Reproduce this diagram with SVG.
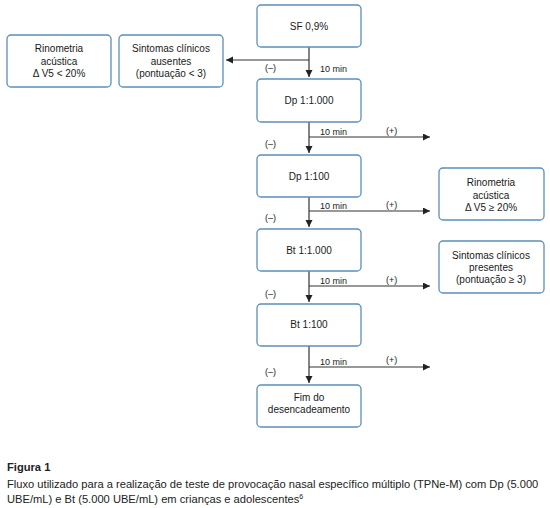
<svg xmlns="http://www.w3.org/2000/svg" width="550" height="508" viewBox="0 0 550 508">
<style>
.box{fill:#fff;stroke:#5b8fb9;stroke-width:1.3}
.t{font-family:"Liberation Sans",Arial,sans-serif;font-size:10px;fill:#1a1a1a;text-anchor:middle}
.l{font-family:"Liberation Sans",Arial,sans-serif;font-size:9px;fill:#1a1a1a}
.c{font-family:"Liberation Sans",Arial,sans-serif;font-size:11.15px;fill:#222}
.ln{stroke:#333;stroke-width:1.2;fill:none}
</style>
<defs>
<marker id="ah" markerUnits="userSpaceOnUse" markerWidth="8" markerHeight="8" refX="7" refY="3.5" orient="auto"><path d="M0,0 L7,3.5 L0,7 z" fill="#222"/></marker>
</defs>
<rect width="550" height="508" fill="#fff"/>
<g id="connectors">
<line class="ln" x1="309" y1="47" x2="309" y2="77" marker-end="url(#ah)"/>
<line class="ln" x1="309" y1="60" x2="226" y2="60" marker-end="url(#ah)"/>
<line class="ln" x1="309" y1="122" x2="309" y2="153" marker-end="url(#ah)"/>
<line class="ln" x1="309" y1="137" x2="430" y2="137" marker-end="url(#ah)"/>
<line class="ln" x1="309" y1="197" x2="309" y2="227" marker-end="url(#ah)"/>
<line class="ln" x1="309" y1="211" x2="430" y2="211" marker-end="url(#ah)"/>
<line class="ln" x1="309" y1="271" x2="309" y2="302" marker-end="url(#ah)"/>
<line class="ln" x1="309" y1="286" x2="430" y2="286" marker-end="url(#ah)"/>
<line class="ln" x1="309" y1="346" x2="309" y2="383" marker-end="url(#ah)"/>
<line class="ln" x1="309" y1="367" x2="430" y2="367" marker-end="url(#ah)"/>
<text class="l" x="265" y="71">(–)</text>
<text class="l" x="320" y="72">10 min</text>
<text class="l" x="320" y="135">10 min</text>
<text class="l" x="386" y="134">(+)</text>
<text class="l" x="265" y="147">(–)</text>
<text class="l" x="320" y="209">10 min</text>
<text class="l" x="386" y="208">(+)</text>
<text class="l" x="265" y="221">(–)</text>
<text class="l" x="320" y="284">10 min</text>
<text class="l" x="386" y="283">(+)</text>
<text class="l" x="265" y="297">(–)</text>
<text class="l" x="320" y="365">10 min</text>
<text class="l" x="386" y="363">(+)</text>
<text class="l" x="265" y="375">(–)</text>
</g>
<g id="sf"><rect class="box" x="257" y="5" width="104" height="42" rx="4"/><text class="t" x="309" y="29.5">SF 0,9%</text></g>
<g id="dp1000"><rect class="box" x="257" y="79" width="104" height="43" rx="4"/><text class="t" x="309" y="104">Dp 1:1.000</text></g>
<g id="dp100"><rect class="box" x="257" y="155" width="104" height="42" rx="4"/><text class="t" x="309" y="180">Dp 1:100</text></g>
<g id="bt1000"><rect class="box" x="257" y="229" width="104" height="42" rx="4"/><text class="t" x="309" y="254">Bt 1:1.000</text></g>
<g id="bt100"><rect class="box" x="257" y="304" width="104" height="42" rx="4"/><text class="t" x="309" y="328">Bt 1:100</text></g>
<g id="fim"><rect class="box" x="257" y="385" width="104" height="42" rx="4"/><text class="t" x="309" y="401">Fim do</text><text class="t" x="309" y="413">desencadeamento</text></g>
<g id="rino-neg"><rect class="box" x="7" y="35" width="104" height="52" rx="4"/><text class="t" x="59" y="52">Rinometria</text><text class="t" x="59" y="64.5">acústica</text><text class="t" x="59" y="77">Δ V5 &lt; 20%</text></g>
<g id="sint-neg"><rect class="box" x="119" y="35" width="104" height="52" rx="4"/><text class="t" x="171" y="52">Sintomas clínicos</text><text class="t" x="171" y="64.5">ausentes</text><text class="t" x="171" y="77">(pontuação &lt; 3)</text></g>
<g id="rino-pos"><rect class="box" x="439" y="168" width="105" height="52" rx="4"/><text class="t" x="491" y="186">Rinometria</text><text class="t" x="491" y="198.5">acústica</text><text class="t" x="491" y="211">Δ V5 ≥ 20%</text></g>
<g id="sint-pos"><rect class="box" x="439" y="241" width="105" height="52" rx="4"/><text class="t" x="491" y="259">Sintomas clínicos</text><text class="t" x="491" y="271">presentes</text><text class="t" x="491" y="283">(pontuação ≥ 3)</text></g>
<g id="caption">
<text class="c" x="7" y="471" font-weight="bold">Figura 1</text>
<text class="c" x="7" y="488">Fluxo utilizado para a realização de teste de provocação nasal específico múltiplo (TPNe-M) com Dp (5.000</text>
<text class="c" x="7" y="503">UBE/mL) e Bt (5.000 UBE/mL) em crianças e adolescentes<tspan font-size="7" dy="-4">6</tspan></text>
</g>
</svg>
